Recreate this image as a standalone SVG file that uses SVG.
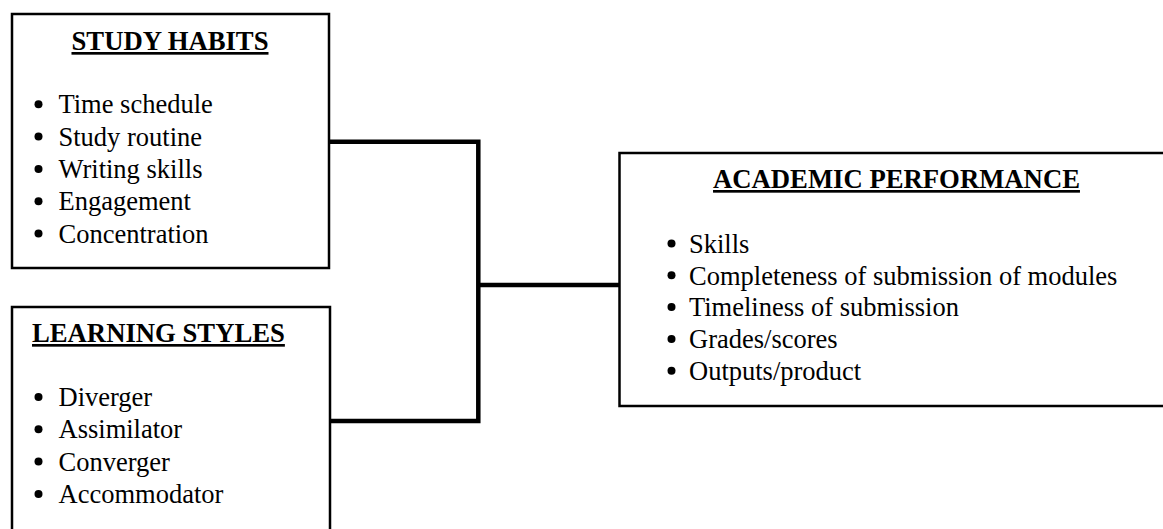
<svg xmlns="http://www.w3.org/2000/svg" width="1163" height="529" viewBox="0 0 1163 529">
<style>
.box{fill:#fff;stroke:#000;stroke-width:2.5}
.conn{fill:none;stroke:#000;stroke-width:4.5}
text{font-family:"Liberation Serif","Times New Roman",serif;fill:#000}
.title{font-size:26.7px;font-weight:bold;text-decoration:underline}
.item{font-size:26.5px}
</style>
<rect width="1163" height="529" fill="#fff"/>
<g id="connectors">
<path class="conn" d="M330 141.7 H478.3 V421 H331"/>
<path class="conn" d="M478.3 285 H619"/>
</g>
<g id="study-habits">
<rect class="box" x="12" y="14" width="317" height="254"/>
<text class="title" x="170" y="50" text-anchor="middle">STUDY HABITS</text>
<circle cx="38.5" cy="104.3" r="4"/><text class="item" x="58.5" y="113.3">Time schedule</text>
<circle cx="38.5" cy="136.6" r="4"/><text class="item" x="58.5" y="145.6">Study routine</text>
<circle cx="38.5" cy="168.9" r="4"/><text class="item" x="58.5" y="177.9">Writing skills</text>
<circle cx="38.5" cy="201.2" r="4"/><text class="item" x="58.5" y="210.2">Engagement</text>
<circle cx="38.5" cy="233.5" r="4"/><text class="item" x="58.5" y="242.5">Concentration</text>
</g>
<g id="learning-styles">
<path class="box" d="M12 535 V307 H330 V535"/>
<text class="title" x="32" y="342">LEARNING STYLES</text>
<circle cx="38.5" cy="397" r="4"/><text class="item" x="58.5" y="406">Diverger</text>
<circle cx="38.5" cy="429.3" r="4"/><text class="item" x="58.5" y="438.3">Assimilator</text>
<circle cx="38.5" cy="461.6" r="4"/><text class="item" x="58.5" y="470.6">Converger</text>
<circle cx="38.5" cy="493.9" r="4"/><text class="item" x="58.5" y="502.9">Accommodator</text>
</g>
<g id="academic-performance">
<path class="box" d="M1170 153 H619.5 V406 H1170"/>
<text class="title" x="896.5" y="188" text-anchor="middle">ACADEMIC PERFORMANCE</text>
<circle cx="671.5" cy="243.5" r="4"/><text class="item" x="689" y="252.7">Skills</text>
<circle cx="671.5" cy="275.3" r="4"/><text class="item" x="689" y="284.5">Completeness of submission of modules</text>
<circle cx="671.5" cy="307.1" r="4"/><text class="item" x="689" y="316.3">Timeliness of submission</text>
<circle cx="671.5" cy="338.9" r="4"/><text class="item" x="689" y="348.1">Grades/scores</text>
<circle cx="671.5" cy="370.7" r="4"/><text class="item" x="689" y="379.9">Outputs/product</text>
</g>
</svg>
